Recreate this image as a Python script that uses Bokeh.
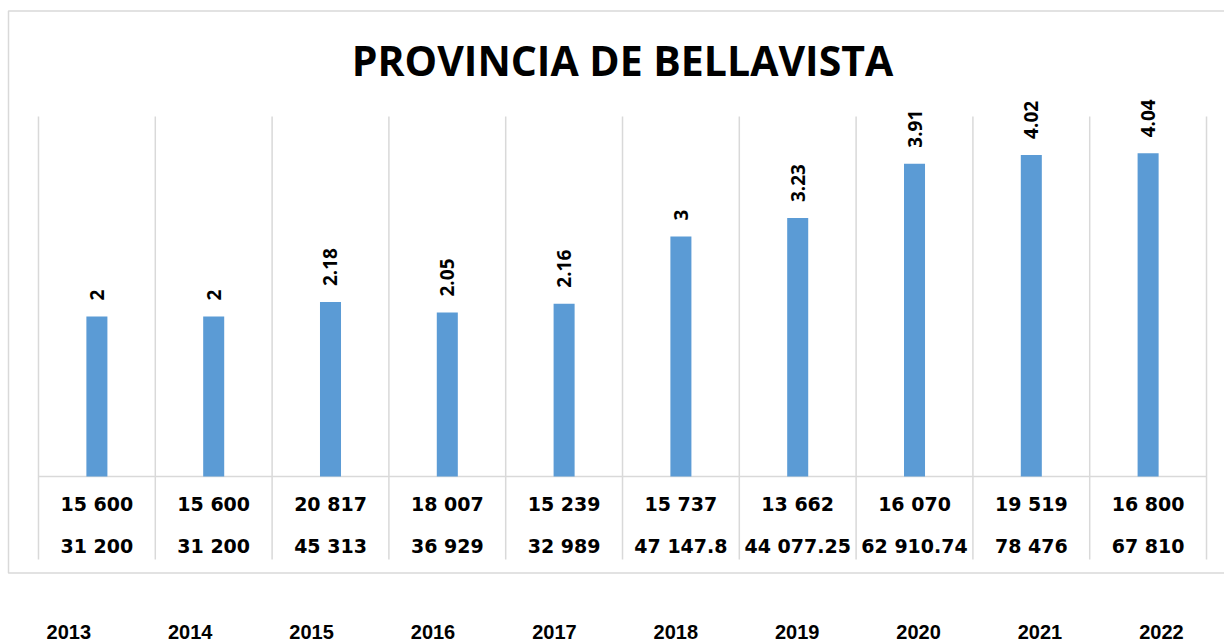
import numpy as np
from bokeh.plotting import figure
from bokeh.models import Range1d, Label
from bokeh.core.properties import value
from bokeh.embed import file_html
from bokeh.resources import INLINE

# ---------------- data ----------------
title_text = "PROVINCIA DE BELLAVISTA"
years = [2013, 2014, 2015, 2016, 2017, 2018, 2019, 2020, 2021, 2022]
ratio = [2, 2, 2.18, 2.05, 2.16, 3, 3.23, 3.91, 4.02, 4.04]
row1 = [15600, 15600, 20817, 18007, 15239, 15737, 13662, 16070, 19519, 16800]
row2 = [31200, 31200, 45313, 36929, 32989, 47147.8, 44077.25, 62910.74, 78476, 67810]

# ---------------- layout constants ----------------
n = len(years)
BAR = "#5B9BD5"
GRID = "#D9D9D9"
Y_TOP = 4.5           # top of the grid lines
ROW1_Y = -0.3375
ROW2_Y = -0.8625
TABLE_BOTTOM = -1.0375
YEAR_Y = -1.944
BOX = dict(left=-0.2568, right=12, top=5.819, bottom=-1.206)


def fmt_num(v):
    return f"{v:,}".replace(",", " ")


xc = np.arange(n) + 0.5
edges = np.arange(n + 1)

p = figure(width=1224, height=642,
           x_range=Range1d(-0.3253, 10.154), y_range=Range1d(-2.075, 5.95),
           x_axis_type=None, y_axis_type=None,
           toolbar_location=None, output_backend="svg",
           min_border_left=0, min_border_right=0, min_border_top=0,
           min_border_bottom=0)
p.grid.visible = False
p.outline_line_color = None
p.background_fill_color = "white"
p.border_fill_color = "white"
p.extra_x_ranges = {"years": Range1d(2012.4374, 2022.5198)}

# chart border (right side runs off the picture)
p.quad(left=[BOX["left"]], right=[BOX["right"]], top=[BOX["top"]],
       bottom=[BOX["bottom"]], fill_color=None, line_color=GRID, line_width=1.5)

# grid / table lines
p.segment(x0=edges, y0=[TABLE_BOTTOM] * (n + 1), x1=edges, y1=[Y_TOP] * (n + 1),
          line_color=GRID, line_width=1.5)
p.segment(x0=[0], y0=[0], x1=[n], y1=[0], line_color=GRID, line_width=1.5)

# bars
p.vbar(x=xc, top=ratio, width=0.18, bottom=0, fill_color=BAR, line_color=None)

# value labels (rotated)
p.text(x=xc, y=ratio, text=[f"{v:g}" for v in ratio], angle=np.pi / 2,
       y_offset=-16, text_align="left", text_baseline="middle",
       text_font=value("Open Sans"), text_font_style="bold",
       text_font_size="19px", text_color="black")

# table rows
for row, yy in ((row1, ROW1_Y), (row2, ROW2_Y)):
    p.text(x=xc, y=[yy] * n, text=[fmt_num(v) for v in row],
           text_align="center", text_baseline="middle",
           text_font=value("DejaVu Sans"), text_font_style="bold",
           text_font_size="19px", text_color="black")

# year row below the chart
p.text(x=years, y=[YEAR_Y] * n, text=[str(y) for y in years],
       x_range_name="years", text_align="center", text_baseline="middle",
       text_font=value("Liberation Sans"), text_font_style="bold",
       text_font_size="20px", text_color="black")

# title
p.add_layout(Label(x=n / 2, y=5.2125, text=title_text, text_align="center",
                   text_baseline="middle", text_font="Open Sans",
                   text_font_style="bold", text_font_size="41px",
                   text_color="black"))

open("out.html", "w").write(file_html(p, INLINE))
